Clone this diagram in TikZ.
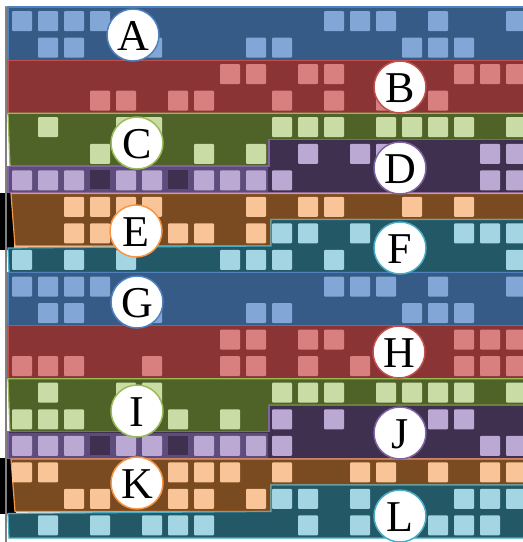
\documentclass[tikz,border=0pt]{standalone}
\usepackage{fontspec}
\setmainfont{Liberation Serif}
\definecolor{bandA}{HTML}{375B87}\definecolor{sqA}{HTML}{82A7D6}\definecolor{lnA}{HTML}{4F81BD}
\definecolor{bandB}{HTML}{8B3435}\definecolor{sqB}{HTML}{D88080}\definecolor{lnB}{HTML}{C0504D}
\definecolor{bandC}{HTML}{4F6228}\definecolor{sqC}{HTML}{CADCA5}\definecolor{lnC}{HTML}{9BBB59}
\definecolor{bandD}{HTML}{40304F}\definecolor{sqD}{HTML}{BBA9D3}\definecolor{lnD}{HTML}{8064A2}\definecolor{stripD}{HTML}{5D4C7C}
\definecolor{bandE}{HTML}{7A4A20}\definecolor{sqE}{HTML}{F9C497}\definecolor{lnE}{HTML}{F79646}
\definecolor{bandF}{HTML}{235866}\definecolor{sqF}{HTML}{A3D5E3}\definecolor{lnF}{HTML}{4BACC6}
\tikzset{
  bandline/.style={line width=1.2pt},
  letter/.style={circle, fill=white, draw=#1, line width=1.5pt, minimum size=52pt, inner sep=0pt,
    text height=30pt, text depth=0pt, font=\fontsize{44}{44}\selectfont}
}
\begin{document}
\begin{tikzpicture}[x=1pt,y=-1pt]
\useasboundingbox (0,0) rectangle (523,542);
\fill[white] (0,0) rectangle (523,542);
\begin{scope}
\clip (0,0) rectangle (523,542);
% dark left corners
\fill[black] (0,193) rectangle (14,250);
\fill[black] (0,458) rectangle (16,514);
\draw[gray, line width=1.5pt] (6,6) -- (6,542);
\draw[gray!60, line width=1pt] (6,6) -- (523,6);
% two halves of bands
\foreach \dy in {0,265.5}{
\begin{scope}[shift={(0,\dy)}]
  \filldraw[fill=bandA, draw=lnA, bandline] (8,7) rectangle (530,60.1);
  \filldraw[fill=bandB, draw=lnB, bandline] (8,60.1) rectangle (530,113.2);
  \filldraw[fill=bandC, draw=lnC, bandline] (8,113.2) -- (530,113.2) -- (530,139.75) -- (269,139.75) -- (269,166.3) -- (10,166.3) -- cycle;
  \filldraw[fill=bandD, draw=lnD, bandline] (269,139.75) -- (530,139.75) -- (530,192.85) -- (8,192.85) -- (8,166.3) -- (269,166.3) -- cycle;
  \fill[stripD] (9,167) rectangle (268.4,192.2);
  \filldraw[fill=bandE, draw=lnE, bandline] (11,193.5) -- (530,193.5) -- (530,219.4) -- (271,219.4) -- (271,245.95) -- (15,245.95) -- cycle;
  \filldraw[fill=bandF, draw=lnF, bandline] (271,219.4) -- (530,219.4) -- (530,272.5) -- (9,272.5) -- (8,248) -- (271,245.95) -- cycle;
  % off squares in the D strip
  \foreach \k in {3,6}{\fill[bandD] ({12+26*\k},170.3) rectangle +(20,19);}
\end{scope}}
% lit squares
\foreach \r/\c/\cl in {
 0/sqA/{0,1,2,3,12,13,14,16,19},
 1/sqA/{1,2,5,9,10,15,16,17},
 2/sqB/{8,9,11,12,17,18,19},
 3/sqB/{3,4,6,7,10,12,14,16},
 4/sqC/{1,4,5,10,11,12,14,15,16,17,19},
 5/sqC/{3,7,9},
 5/sqD/{11,13,14,18,19},
 6/sqD/{0,1,2,4,5,7,8,9,10,18,19},
 7/sqE/{2,3,4,5,9,11,12,15,17},
 8/sqE/{2,3,6,7,9},
 8/sqF/{10,11,13,17,18,19},
 9/sqF/{0,2,4,8,9,10,12,19},
 10/sqA/{0,1,2,3,12,13,14,16,19},
 11/sqA/{1,2,5,9,10,15,16,17},
 12/sqB/{8,9,11,12,17,18,19},
 13/sqB/{0,1,2,5,8,9,11,13,17,18,19},
 14/sqC/{1,4,5,10,11,12,14,15,16,17,19},
 15/sqC/{0,1,2,6,8},
 15/sqD/{10,12,16,17},
 16/sqD/{0,1,2,4,5,7,8,9,10,18,19},
 17/sqE/{0,1,6,7,8,10,13,14,16,18,19},
 18/sqE/{2,3,6,7,9},
 18/sqF/{10,11,13,17,18,19},
 19/sqF/{1,3,5,6,7,11,13,16,17,18}}{
  \foreach \k in \cl {
    \fill[\c, rounded corners=1pt] ({12+26*\k},{7+26.55*\r+4}) rectangle +(20,20);
  }
}
\end{scope}
% letter circles
\node[letter=lnA] (A) at (133,35) {A};
\node[letter=lnB] (B) at (400,87) {B};
\node[letter=lnC] (C) at (137,143) {C};
\node[letter=lnD] (D) at (400,168) {D};
\node[letter=lnE] (E) at (136,231) {E};
\node[letter=lnF] (F) at (400,248) {F};
\node[letter=lnA] (G) at (137,302) {G};
\node[letter=lnB] (H) at (399,352) {H};
\node[letter=lnC] (I) at (137,411) {I};
\node[letter=lnD] (J) at (400,433) {J};
\node[letter=lnE] (K) at (137,483) {K};
\node[letter=lnF] (L) at (400,516) {L};
\end{tikzpicture}
\end{document}
